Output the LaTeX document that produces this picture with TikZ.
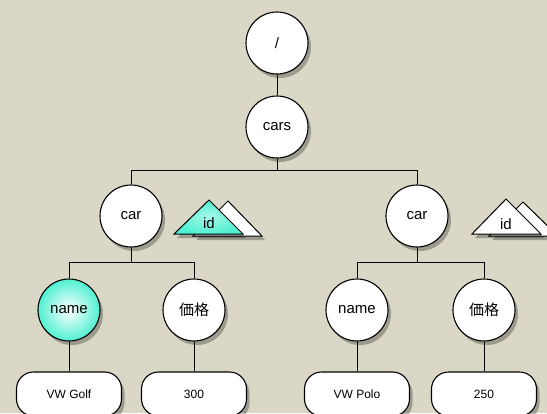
\documentclass[tikz,border=0pt]{standalone}
\usepackage{fontspec}
\setmainfont{Liberation Sans}
\newfontfamily\cjk{Noto Sans CJK JP}
\usetikzlibrary{shadows}
\pgfdeclarelayer{bgfill}
\pgfdeclarelayer{lines}
\pgfsetlayers{bgfill,lines,main}
\definecolor{bg}{RGB}{218,215,198}
\definecolor{aqua}{RGB}{80,240,210}
\tikzset{
  shad/.style={drop shadow={shadow xshift=3pt, shadow yshift=-4pt, opacity=0.28, fill=black}},
  circ/.style={circle, draw=black, line width=1.1pt, fill=white, minimum size=62pt,
    inner sep=0pt, font=\fontsize{15}{17}\selectfont, shad},
  hl/.style={shading=radial, inner color=white, outer color=aqua},
  leaf/.style={rounded corners=17pt, draw=black, line width=1.1pt, fill=white,
    minimum width=105pt, minimum height=44pt, inner sep=0pt,
    font=\fontsize{12}{14}\selectfont, shad},
  tri/.style={draw=black, line width=1pt, fill=white, line join=miter, shad},
  conn/.style={line width=0.9pt, draw=black},
  idtext/.style={font=\fontsize{15}{17}\selectfont, inner sep=0pt}
}
\begin{document}
\begin{tikzpicture}[x=1pt,y=-1pt]
\useasboundingbox (0,0) rectangle (547,413);
\begin{pgfonlayer}{bgfill}
  \fill[bg] (0,0) rectangle (547,413);
\end{pgfonlayer}
\clip (0,0) rectangle (547,413);

\node[circ] (root) at (277,43) {/};
\node[circ] (cars) at (277,127) {cars};
\node[circ] (carL) at (131,216) {car};
\node[circ] (carR) at (417,216) {car};
\node[circ,hl] (nameL) at (69,310) {name};
\node[circ] (priceL) at (194,310) {\cjk 価格};
\node[circ] (nameR) at (357,310) {name};
\node[circ] (priceR) at (484,310) {\cjk 価格};

\node[leaf] (golf) at (69,394) {VW Golf};
\node[leaf] (p300) at (194,394) {300};
\node[leaf] (polo) at (357,394) {VW Polo};
\node[leaf] (p250) at (484,394) {250};

% id triangles, left
\path[tri] (228,201) -- (262,236) -- (193,236) -- cycle;
\path[tri, shading=radial, inner color=white!50!aqua, outer color=aqua] (209,200) -- (243,234) -- (174,234) -- cycle;
\node[idtext] (idL) at (209,223) {id};
% id triangles, right
\path[tri] (523,202) -- (558,236) -- (489,236) -- cycle;
\path[tri] (506,199) -- (541,234) -- (472,234) -- cycle;
\node[idtext] (idR) at (506,224) {id};

\begin{pgfonlayer}{lines}
  \draw[conn] (root) -- (cars);
  \draw[conn] (cars.south) -- ++(0,12) -| (carL.north);
  \draw[conn] (cars.south) -- ++(0,12) -| (carR.north);
  \draw[conn] (carL.south) -- ++(0,15) -| (nameL.north);
  \draw[conn] (carL.south) -- ++(0,15) -| (priceL.north);
  \draw[conn] (carR.south) -- ++(0,15) -| (nameR.north);
  \draw[conn] (carR.south) -- ++(0,15) -| (priceR.north);
  \draw[conn] (nameL) -- (golf);
  \draw[conn] (priceL) -- (p300);
  \draw[conn] (nameR) -- (polo);
  \draw[conn] (priceR) -- (p250);
\end{pgfonlayer}
\end{tikzpicture}
\end{document}
